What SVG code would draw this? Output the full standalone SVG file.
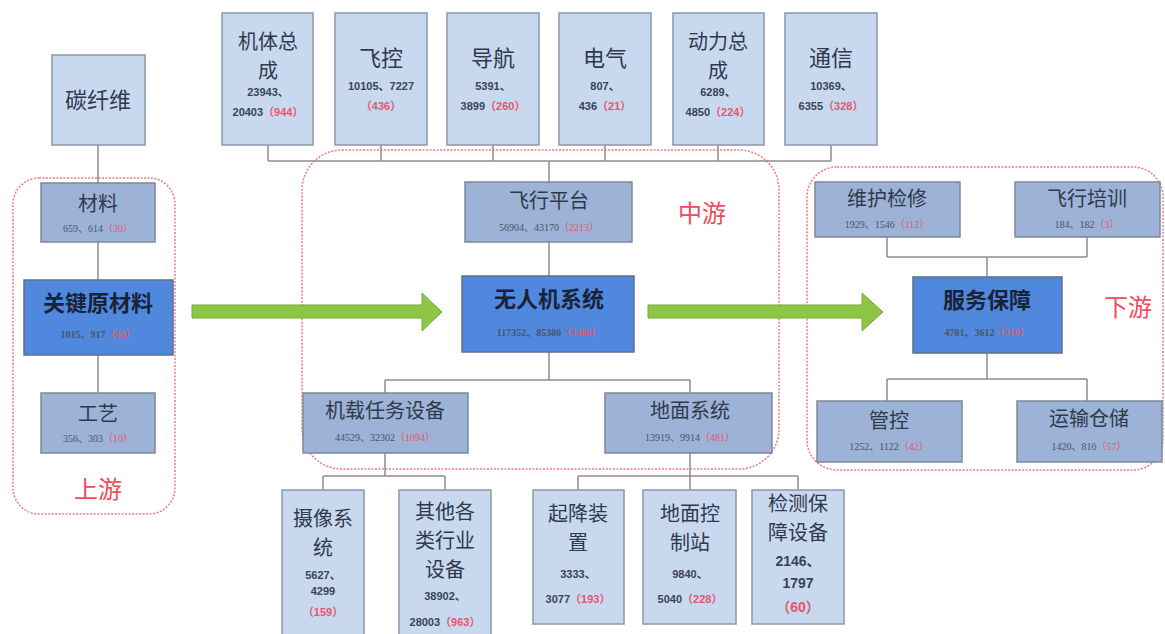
<svg xmlns="http://www.w3.org/2000/svg" width="1165" height="634" viewBox="0 0 1165 634">
<defs>
<style>
.bl{fill:#c8d8ef;stroke:#8b98aa;stroke-width:1.5}
.bm{fill:#9cb2d6;stroke:#7d8898;stroke-width:1.5}
.bd{fill:#4f88dc;stroke:#5c6f8c;stroke-width:1.5}
.zone{fill:none;stroke:#ee7a86;stroke-width:1.5;stroke-dasharray:2 1.5}
.cn line{stroke:#8c8c8c;stroke-width:1.5}
.lb{font-family:"Noto Sans CJK SC","Noto Sans CJK JP",sans-serif;fill:#2f3a4d;text-anchor:middle}
.ld{font-family:"Noto Sans CJK SC","Noto Sans CJK JP",sans-serif;fill:#1a2238;text-anchor:middle;font-weight:bold}
.nb{font-family:"Liberation Sans","Noto Sans CJK SC",sans-serif;fill:#3a4454;text-anchor:middle;font-weight:bold}
.ns{font-family:"Liberation Serif","Noto Sans CJK SC",serif;fill:#4a5468;text-anchor:middle}
.r{fill:#e5566c}
.zt{font-family:"Noto Sans CJK SC",sans-serif;fill:#ef4b5a;text-anchor:middle}
.arr{fill:#8cc643;stroke:#74ab35;stroke-width:1}
</style>
</defs>
<rect width="1165" height="634" fill="#ffffff"/>

<!-- zones -->
<g id="zones">
<rect class="zone" x="13" y="178" width="162" height="336" rx="26"/>
<rect class="zone" x="302" y="150" width="477" height="319" rx="40"/>
<rect class="zone" x="807" y="167" width="356" height="303" rx="30"/>
<text class="zt" x="98" y="498" font-size="24">上游</text>
<text class="zt" x="702" y="222" font-size="24">中游</text>
<text class="zt" x="1128" y="316" font-size="24">下游</text>
</g>

<!-- connectors -->
<g id="connectors" class="cn">
<line x1="98" y1="145" x2="98" y2="183"/>
<line x1="98" y1="242" x2="98" y2="280"/>
<line x1="98" y1="355" x2="98" y2="393"/>
<line x1="268" y1="145" x2="268" y2="161"/>
<line x1="381" y1="145" x2="381" y2="161"/>
<line x1="493" y1="145" x2="493" y2="161"/>
<line x1="605" y1="145" x2="605" y2="161"/>
<line x1="718" y1="145" x2="718" y2="161"/>
<line x1="831" y1="145" x2="831" y2="161"/>
<line x1="268" y1="161" x2="831" y2="161"/>
<line x1="549" y1="161" x2="549" y2="182"/>
<line x1="549" y1="242" x2="549" y2="276"/>
<line x1="549" y1="352" x2="549" y2="380"/>
<line x1="385" y1="380" x2="690" y2="380"/>
<line x1="385" y1="380" x2="385" y2="393"/>
<line x1="690" y1="380" x2="690" y2="393"/>
<line x1="385" y1="453" x2="385" y2="476"/>
<line x1="323" y1="476" x2="445" y2="476"/>
<line x1="323" y1="476" x2="323" y2="490"/>
<line x1="445" y1="476" x2="445" y2="490"/>
<line x1="690" y1="453" x2="690" y2="476"/>
<line x1="578" y1="476" x2="798" y2="476"/>
<line x1="578" y1="476" x2="578" y2="490"/>
<line x1="690" y1="476" x2="690" y2="490"/>
<line x1="798" y1="476" x2="798" y2="490"/>
<line x1="887" y1="237" x2="887" y2="257"/>
<line x1="1087" y1="237" x2="1087" y2="257"/>
<line x1="887" y1="257" x2="1087" y2="257"/>
<line x1="987" y1="257" x2="987" y2="277"/>
<line x1="987" y1="353" x2="987" y2="379"/>
<line x1="887" y1="379" x2="1087" y2="379"/>
<line x1="887" y1="379" x2="887" y2="401"/>
<line x1="1087" y1="379" x2="1087" y2="401"/>
<path class="arr" d="M192,305 H422 V293 L442,312 L422,331 V318 H192 Z"/>
<path class="arr" d="M648,305 H862 V293 L883,312 L862,331 V318 H648 Z"/>
</g>

<!-- top row -->
<g id="n-tanxianwei">
<rect class="bl" x="52" y="55" width="93" height="90"/>
<text class="lb" x="98" y="108" font-size="22">碳纤维</text>
</g>
<g id="n-jiti">
<rect class="bl" x="222" y="13" width="91" height="132"/>
<text class="lb" x="268" y="49" font-size="20">机体总</text>
<text class="lb" x="268" y="78" font-size="20">成</text>
<text class="nb" x="268" y="96" font-size="11">23943、</text>
<text class="nb" x="268" y="116" font-size="11">20403<tspan class="r">（944）</tspan></text>
</g>
<g id="n-feikong">
<rect class="bl" x="335" y="13" width="92" height="132"/>
<text class="lb" x="381" y="66" font-size="22">飞控</text>
<text class="nb" x="381" y="90" font-size="11">10105、7227</text>
<text class="nb" x="381" y="110" font-size="11"><tspan class="r">（436）</tspan></text>
</g>
<g id="n-daohang">
<rect class="bl" x="447" y="13" width="92" height="132"/>
<text class="lb" x="493" y="66" font-size="22">导航</text>
<text class="nb" x="493" y="90" font-size="11">5391、</text>
<text class="nb" x="493" y="110" font-size="11">3899<tspan class="r">（260）</tspan></text>
</g>
<g id="n-dianqi">
<rect class="bl" x="559" y="13" width="92" height="132"/>
<text class="lb" x="605" y="66" font-size="22">电气</text>
<text class="nb" x="605" y="90" font-size="11">807、</text>
<text class="nb" x="605" y="110" font-size="11">436<tspan class="r">（21）</tspan></text>
</g>
<g id="n-dongli">
<rect class="bl" x="673" y="13" width="91" height="132"/>
<text class="lb" x="718" y="49" font-size="20">动力总</text>
<text class="lb" x="718" y="78" font-size="20">成</text>
<text class="nb" x="718" y="96" font-size="11">6289、</text>
<text class="nb" x="718" y="116" font-size="11">4850<tspan class="r">（224）</tspan></text>
</g>
<g id="n-tongxin">
<rect class="bl" x="785" y="13" width="92" height="132"/>
<text class="lb" x="831" y="66" font-size="22">通信</text>
<text class="nb" x="831" y="90" font-size="11">10369、</text>
<text class="nb" x="831" y="110" font-size="11">6355<tspan class="r">（328）</tspan></text>
</g>

<!-- upstream -->
<g id="n-cailiao">
<rect class="bm" x="41" y="183" width="114" height="59"/>
<text class="lb" x="98" y="211" font-size="20">材料</text>
<text class="ns" x="98" y="232" font-size="10">659、614<tspan class="r">（30）</tspan></text>
</g>
<g id="n-guanjian">
<rect class="bd" x="24" y="280" width="149" height="75"/>
<text class="ld" x="98" y="311" font-size="22">关键原材料</text>
<text class="ns" x="98" y="338" font-size="10" font-weight="bold" fill="#1a2238">1015、917<tspan class="r">（46）</tspan></text>
</g>
<g id="n-gongyi">
<rect class="bm" x="41" y="393" width="114" height="60"/>
<text class="lb" x="98" y="421" font-size="20">工艺</text>
<text class="ns" x="98" y="442" font-size="10">356、303<tspan class="r">（10）</tspan></text>
</g>

<!-- midstream -->
<g id="n-feixingpingtai">
<rect class="bm" x="465" y="182" width="167" height="60"/>
<text class="lb" x="549" y="208" font-size="20">飞行平台</text>
<text class="ns" x="549" y="231" font-size="10">56904、43170<tspan class="r">（2213）</tspan></text>
</g>
<g id="n-wurenji">
<rect class="bd" x="462" y="276" width="172" height="76"/>
<text class="ld" x="549" y="307" font-size="22">无人机系统</text>
<text class="ns" x="549" y="336" font-size="10" font-weight="bold" fill="#1a2238">117352、85386<tspan class="r">（3388）</tspan></text>
</g>
<g id="n-jizai">
<rect class="bm" x="303" y="393" width="165" height="60"/>
<text class="lb" x="385" y="418" font-size="20">机载任务设备</text>
<text class="ns" x="385" y="441" font-size="10">44529、32302<tspan class="r">（1094）</tspan></text>
</g>
<g id="n-dimian">
<rect class="bm" x="605" y="393" width="167" height="60"/>
<text class="lb" x="690" y="418" font-size="20">地面系统</text>
<text class="ns" x="690" y="441" font-size="10">13919、9914<tspan class="r">（481）</tspan></text>
</g>

<!-- bottom row -->
<g id="n-shexiang">
<rect class="bl" x="282" y="490" width="82" height="150"/>
<text class="lb" x="323" y="526" font-size="20">摄像系</text>
<text class="lb" x="323" y="555" font-size="20">统</text>
<text class="nb" x="323" y="579" font-size="11">5627、</text>
<text class="nb" x="323" y="595" font-size="11">4299</text>
<text class="nb" x="323" y="616" font-size="11"><tspan class="r">（159）</tspan></text>
</g>
<g id="n-qita">
<rect class="bl" x="399" y="490" width="92" height="150"/>
<text class="lb" x="445" y="519" font-size="20">其他各</text>
<text class="lb" x="445" y="548" font-size="20">类行业</text>
<text class="lb" x="445" y="577" font-size="20">设备</text>
<text class="nb" x="445" y="600" font-size="11">38902、</text>
<text class="nb" x="445" y="626" font-size="11">28003<tspan class="r">（963）</tspan></text>
</g>
<g id="n-qijiang">
<rect class="bl" x="533" y="490" width="91" height="134"/>
<text class="lb" x="578" y="521" font-size="20">起降装</text>
<text class="lb" x="578" y="550" font-size="20">置</text>
<text class="nb" x="578" y="578" font-size="11">3333、</text>
<text class="nb" x="578" y="603" font-size="11">3077<tspan class="r">（193）</tspan></text>
</g>
<g id="n-dimiankongzhi">
<rect class="bl" x="643" y="490" width="93" height="134"/>
<text class="lb" x="690" y="521" font-size="20">地面控</text>
<text class="lb" x="690" y="550" font-size="20">制站</text>
<text class="nb" x="690" y="578" font-size="11">9840、</text>
<text class="nb" x="690" y="603" font-size="11">5040<tspan class="r">（228）</tspan></text>
</g>
<g id="n-jiance">
<rect class="bl" x="752" y="490" width="92" height="134"/>
<text class="lb" x="798" y="511" font-size="20">检测保</text>
<text class="lb" x="798" y="540" font-size="20">障设备</text>
<text class="nb" x="798" y="566" font-size="14">2146、</text>
<text class="nb" x="798" y="588" font-size="14">1797</text>
<text class="nb" x="798" y="612" font-size="14"><tspan class="r">（60）</tspan></text>
</g>

<!-- downstream -->
<g id="n-weihu">
<rect class="bm" x="815" y="182" width="145" height="55"/>
<text class="lb" x="887" y="206" font-size="20">维护检修</text>
<text class="ns" x="887" y="228" font-size="10">1929、1546<tspan class="r">（112）</tspan></text>
</g>
<g id="n-peixun">
<rect class="bm" x="1015" y="182" width="145" height="55"/>
<text class="lb" x="1087" y="206" font-size="20">飞行培训</text>
<text class="ns" x="1087" y="228" font-size="10">184、182<tspan class="r">（3）</tspan></text>
</g>
<g id="n-fuwu">
<rect class="bd" x="913" y="277" width="149" height="76"/>
<text class="ld" x="987" y="308" font-size="22">服务保障</text>
<text class="ns" x="987" y="336" font-size="10" font-weight="bold" fill="#1a2238">4781、3612<tspan class="r">（216）</tspan></text>
</g>
<g id="n-guankong">
<rect class="bm" x="817" y="401" width="145" height="61"/>
<text class="lb" x="889" y="428" font-size="20">管控</text>
<text class="ns" x="889" y="450" font-size="10">1252、1122<tspan class="r">（42）</tspan></text>
</g>
<g id="n-yunshu">
<rect class="bm" x="1017" y="401" width="145" height="61"/>
<text class="lb" x="1089" y="426" font-size="20">运输仓储</text>
<text class="ns" x="1089" y="450" font-size="10">1420、816<tspan class="r">（57）</tspan></text>
</g>
</svg>
